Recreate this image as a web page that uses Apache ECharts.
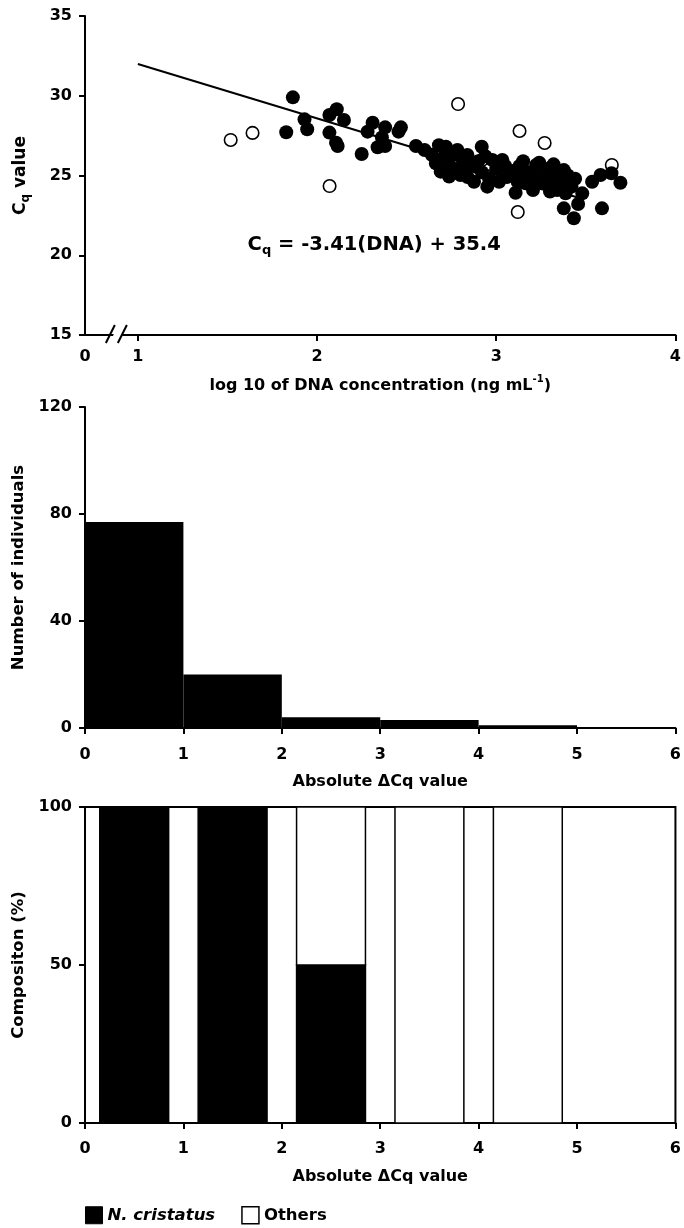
<!DOCTYPE html>
<html>
<head>
<meta charset="utf-8">
<style>
  html, body { margin: 0; padding: 0; background: #fff; }
  #chart { width: 684px; height: 1228px; }
</style>
<script src="https://cdn.jsdelivr.net/npm/echarts@6/dist/echarts.min.js"></script>
</head>
<body>
<div id="chart"></div>
<script>
// ---- Panel A: Cq against log10 DNA concentration ----
const cristatusPoints = [
  [1.865, 29.90], [1.828, 27.71], [1.930, 28.52], [1.945, 27.90], [2.069, 27.69],
  [2.106, 27.06], [2.115, 26.85], [2.069, 28.79], [2.110, 29.15], [2.150, 28.48],
  [2.249, 26.35], [2.310, 28.31], [2.282, 27.75], [2.380, 28.02], [2.362, 27.39],
  [2.338, 26.77], [2.380, 26.85], [2.468, 28.02], [2.455, 27.75], [2.552, 26.85],
  [2.719, 26.80], [2.783, 26.60], [2.663, 25.76], [2.690, 25.24], [2.737, 24.93],
  [2.800, 25.03], [2.839, 26.29], [2.858, 25.66], [2.919, 26.80], [2.876, 24.61],
  [2.950, 24.30], [2.978, 25.97], [3.034, 25.97], [3.016, 24.61], [3.080, 25.03],
  [3.108, 23.92], [3.130, 25.60], [3.164, 24.51], [3.205, 24.09], [3.223, 25.66],
  [3.257, 24.93], [3.298, 25.45], [3.312, 24.51], [3.350, 24.30], [3.377, 25.34],
  [3.401, 24.72], [3.387, 23.88], [3.377, 22.94], [3.433, 22.32], [3.457, 23.21],
  [3.480, 23.88], [3.535, 24.61], [3.582, 25.03], [3.643, 25.14], [3.693, 24.55],
  [3.590, 22.94], [2.811, 26.08], [2.886, 25.55], [3.145, 24.82], [3.340, 24.09],
  [2.640, 26.30], [2.680, 26.90], [2.700, 26.10], [2.740, 25.60], [2.760, 26.30],
  [2.780, 25.40], [2.820, 25.50], [2.840, 24.90], [2.900, 25.90], [2.920, 25.20],
  [2.940, 26.20], [2.960, 24.80], [3.000, 25.40], [3.050, 25.60], [3.060, 24.90],
  [3.100, 25.30], [3.120, 24.60], [3.150, 25.90], [3.180, 25.20], [3.200, 24.80],
  [3.220, 25.00], [3.240, 25.80], [3.260, 24.50], [3.280, 25.10], [3.300, 24.00],
  [3.320, 25.70], [3.340, 24.80], [3.360, 25.10], [3.380, 24.50], [3.400, 25.00],
  [3.420, 24.30], [3.440, 24.80], [2.730, 26.50], [2.600, 26.60]
];
const otherPoints = [
  [1.518, 27.23], [1.640, 27.67], [2.070, 24.34], [2.787, 29.48], [3.130, 27.79],
  [3.270, 27.04], [3.645, 25.66], [3.120, 22.71], [2.920, 25.97]
];
// fitted line Cq = slope * log10(DNA) + intercept, drawn over this x span
const slope = -3.41;
const intercept = 35.4;
const fitRange = [1, 3.45];
const concTickValues = [1, 2, 3, 4];
const concLabelValues = [0.705, 1, 2, 3, 4];
const concLabels = ['0', '1', '2', '3', '4'];
const concBreakAt = 0.88;

// ---- Panel B: histogram of absolute delta Cq ----
const binEdges = [0, 1, 2, 3, 4, 5, 6];
const binCounts = [77, 20, 4, 3, 1, 0];

// ---- Panel C: composition per delta Cq bin (%) ----
const cristatusPct = [100, 100, 50, 0, 0, null];
const othersPct = [0, 0, 50, 100, 100, null];

const FONT = "'DejaVu Sans', 'Liberation Sans', Arial, sans-serif";
const TICK = 16;
const XNAME = 16;
const YNAME = 16.5;
const axisLineStyle = { color: '#000', width: 2 };

function valueAxisBase(extra) {
  return Object.assign({
    type: 'value',
    axisLine: { show: true, lineStyle: axisLineStyle },
    axisTick: { show: true, length: 6, lineStyle: { color: '#000', width: 2 } },
    splitLine: { show: false },
    axisLabel: { color: '#000', fontFamily: FONT, fontWeight: 'bold', fontSize: TICK, margin: 12 },
    nameTextStyle: { color: '#000', fontFamily: FONT, fontWeight: 'bold', fontSize: XNAME },
    nameLocation: 'middle'
  }, extra);
}
function labelStyle(margin) {
  return { color: '#000', fontFamily: FONT, fontWeight: 'bold', fontSize: TICK, margin: margin };
}
const yNameStyle = { color: '#000', fontFamily: FONT, fontWeight: 'bold', fontSize: YNAME };

const fitLine = fitRange.map(x => [x, slope * x + intercept]);
const eqText = '{m|C}{s|q}{m| = ' + slope.toFixed(2) + '(DNA) + ' + intercept.toFixed(1) + '}';

const histData = binCounts.map((c, i) => [binEdges[i], binEdges[i + 1], c]);
const cristatusData = cristatusPct.map((v, i) => [binEdges[i], binEdges[i + 1], 0, v]);
const othersData = othersPct.map((v, i) => [binEdges[i], binEdges[i + 1], cristatusPct[i] || 0, v]);

const BAR_FRAC = 0.7;
function compositionItem(fill) {
  return function (params, api) {
    const lo = api.value(0), hi = api.value(1), base = api.value(2), v = api.value(3);
    if (!v) return null;
    const mid = (lo + hi) / 2, half = (hi - lo) * BAR_FRAC / 2;
    const a = api.coord([mid - half, base + v]);
    const b = api.coord([mid + half, base]);
    return {
      type: 'rect',
      shape: { x: a[0], y: a[1], width: b[0] - a[0], height: b[1] - a[1] },
      style: { fill: fill, stroke: '#000', lineWidth: 1.5 }
    };
  };
}

const chart = echarts.init(document.getElementById('chart'), null, { renderer: 'canvas' });

chart.setOption({
  animation: false,
  backgroundColor: '#fff',
  textStyle: { fontFamily: FONT },
  grid: [
    { left: 85, right: 7, top: 16, height: 319 },
    { left: 85, right: 6, top: 407, height: 321 },
    { left: 85, right: 6, top: 807, height: 316, show: true, borderColor: '#000', borderWidth: 2 }
  ],
  legend: {
    left: 85, top: 1206, padding: 0,
    itemWidth: 17, itemHeight: 17, itemGap: 26,
    icon: 'rect',
    textStyle: { color: '#000', fontFamily: FONT, fontWeight: 'bold', fontSize: 16.5 },
    data: [
      { name: 'N. cristatus', textStyle: { fontStyle: 'italic' },
        itemStyle: { color: '#000', borderColor: '#000', borderWidth: 1 } },
      { name: 'Others', itemStyle: { color: '#fff', borderColor: '#000', borderWidth: 1.5 } }
    ]
  },
  xAxis: [
    valueAxisBase({
      gridIndex: 0, min: 0.705, max: 4,
      name: '{m|log 10 of DNA concentration (ng mL}{p|-1}{m|)}',
      nameGap: 39,
      nameTextStyle: {
        rich: {
          m: { fontFamily: FONT, fontWeight: 'bold', fontSize: XNAME, color: '#000', lineHeight: 20, verticalAlign: 'bottom' },
          p: { fontFamily: FONT, fontWeight: 'bold', fontSize: 10, color: '#000', lineHeight: 20, verticalAlign: 'top', padding: [0, 0, 8, 0] }
        }
      },
      axisTick: { show: true, length: 6, customValues: concTickValues, lineStyle: { color: '#000', width: 2 } },
      axisLabel: Object.assign(labelStyle(14), {
        customValues: concLabelValues,
        formatter: v => concLabels[concLabelValues.indexOf(v)]
      })
    }),
    valueAxisBase({
      gridIndex: 1, min: 0, max: 6, interval: 1,
      axisLabel: labelStyle(19),
      name: 'Absolute ΔCq value', nameGap: 46
    }),
    valueAxisBase({
      gridIndex: 2, min: 0, max: 6, interval: 1,
      axisLabel: labelStyle(18),
      name: 'Absolute ΔCq value', nameGap: 46
    })
  ],
  yAxis: [
    valueAxisBase({
      gridIndex: 0, min: 15, max: 35, interval: 5,
      axisLabel: labelStyle(13),
      name: '{m|C}{s|q}{m| value}', nameGap: 53,
      nameTextStyle: {
        rich: {
          m: { fontFamily: FONT, fontWeight: 'bold', fontSize: 17, color: '#000', lineHeight: 22 },
          s: { fontFamily: FONT, fontWeight: 'bold', fontSize: 12, color: '#000', lineHeight: 22, padding: [10, 0, 0, 0] }
        }
      }
    }),
    valueAxisBase({
      gridIndex: 1, min: 0, max: 120, interval: 40,
      axisLabel: labelStyle(13),
      name: 'Number of individuals', nameGap: 49, nameTextStyle: yNameStyle
    }),
    valueAxisBase({
      gridIndex: 2, min: 0, max: 100, interval: 50,
      axisLabel: labelStyle(13),
      name: 'Compositon (%)', nameGap: 54, nameTextStyle: yNameStyle
    })
  ],
  series: [
    {
      type: 'line', xAxisIndex: 0, yAxisIndex: 0, data: fitLine,
      symbol: 'none', lineStyle: { color: '#000', width: 2 }, z: 2, silent: true
    },
    {
      type: 'scatter', xAxisIndex: 0, yAxisIndex: 0, data: otherPoints,
      symbol: 'circle', symbolSize: 12.5,
      itemStyle: { color: '#fff', borderColor: '#000', borderWidth: 1.6, opacity: 1 }, z: 3, silent: true
    },
    {
      type: 'scatter', xAxisIndex: 0, yAxisIndex: 0, data: cristatusPoints,
      symbol: 'circle', symbolSize: 14,
      itemStyle: { color: '#000', opacity: 1 }, z: 4, silent: true
    },
    {
      // regression equation, anchored in data space
      type: 'scatter', xAxisIndex: 0, yAxisIndex: 0, data: [[2.319, 20.64]],
      symbolSize: 0, silent: true, z: 5,
      itemStyle: { color: '#000', opacity: 1 },
      label: {
        show: true, position: 'inside', formatter: eqText, color: '#000',
        textBorderWidth: 0,
        rich: {
          m: { fontFamily: FONT, fontWeight: 'bold', fontSize: 19.5, color: '#000', lineHeight: 24 },
          s: { fontFamily: FONT, fontWeight: 'bold', fontSize: 13, color: '#000', lineHeight: 24, padding: [11, 0, 0, 0] }
        }
      }
    },
    {
      // axis break marks on the concentration axis
      type: 'custom', xAxisIndex: 0, yAxisIndex: 0, data: [[concBreakAt, 15]],
      clip: false, silent: true, z: 10,
      renderItem: function (params, api) {
        const c = api.coord([api.value(0), api.value(1)]);
        const cx = c[0], cy = c[1];
        return {
          type: 'group',
          children: [
            { type: 'polygon', shape: { points: [[cx - 4.5, cy + 4], [cx + 4.5, cy + 4], [cx + 7.5, cy - 4], [cx - 1.5, cy - 4]] },
              style: { fill: '#fff' } },
            { type: 'line', shape: { x1: cx - 10.5, y1: cy + 8, x2: cx - 1.5, y2: cy - 10 }, style: { stroke: '#000', lineWidth: 2 } },
            { type: 'line', shape: { x1: cx + 1.5, y1: cy + 8, x2: cx + 10.5, y2: cy - 10 }, style: { stroke: '#000', lineWidth: 2 } }
          ]
        };
      }
    },
    {
      type: 'custom', xAxisIndex: 1, yAxisIndex: 1, data: histData, silent: true,
      encode: { x: [0, 1], y: 2 },
      renderItem: function (params, api) {
        const v = api.value(2);
        if (!v) return null;
        const a = api.coord([api.value(0), v]);
        const b = api.coord([api.value(1), 0]);
        return { type: 'rect', shape: { x: a[0], y: a[1], width: b[0] - a[0], height: b[1] - a[1] }, style: { fill: '#000' } };
      }
    },
    {
      name: 'N. cristatus', type: 'custom', xAxisIndex: 2, yAxisIndex: 2, data: cristatusData, silent: true,
      encode: { x: [0, 1], y: 3 },
      itemStyle: { color: '#000' },
      renderItem: compositionItem('#000')
    },
    {
      name: 'Others', type: 'custom', xAxisIndex: 2, yAxisIndex: 2, data: othersData, silent: true,
      encode: { x: [0, 1], y: 3 },
      itemStyle: { color: '#fff', borderColor: '#000' },
      renderItem: compositionItem('#fff')
    }
  ]
});
</script>
</body>
</html>
